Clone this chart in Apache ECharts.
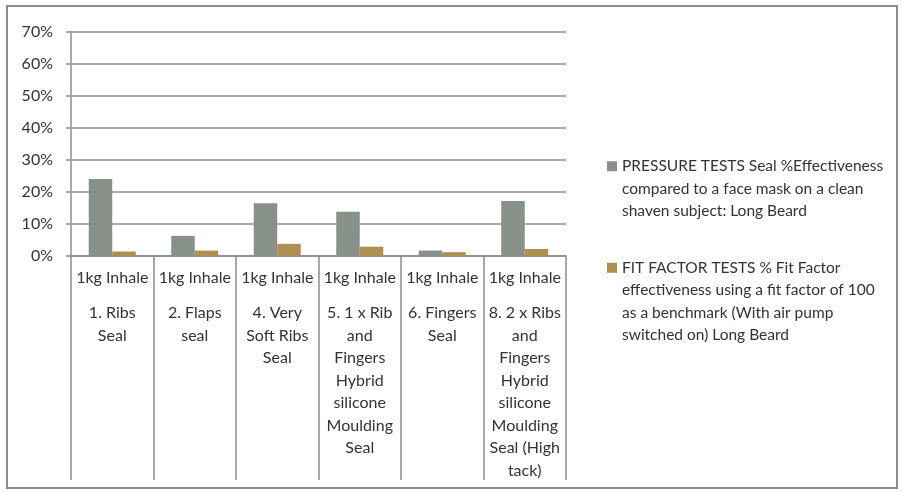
<!DOCTYPE html>
<html>
<head>
<meta charset="utf-8">
<script src="https://cdn.jsdelivr.net/npm/echarts@6/dist/echarts.min.js"></script>
<style>
  html, body { margin: 0; padding: 0; background: #fff; }
  #frame {
    position: absolute; left: 6px; top: 5px; width: 888px; height: 480px;
    border: 2px solid #8c8c8c;
  }
  #chart { position: absolute; left: 0; top: 0; width: 902px; height: 493px; }
</style>
</head>
<body>
<div id="frame"></div>
<div id="chart"></div>
<script>
  // Data (percent)
  const testLabels = ["1kg Inhale", "1kg Inhale", "1kg Inhale", "1kg Inhale", "1kg Inhale", "1kg Inhale"];
  const sealNames = [
    "1. Ribs\nSeal",
    "2. Flaps\nseal",
    "4. Very\nSoft Ribs\nSeal",
    "5. 1 x Rib\nand\nFingers\nHybrid\nsilicone\nMoulding\nSeal",
    "6. Fingers\nSeal",
    "8. 2 x Ribs\nand\nFingers\nHybrid\nsilicone\nMoulding\nSeal (High\ntack)"
  ];
  const pressureName = "PRESSURE TESTS Seal %Effectiveness\ncompared to a face mask on a clean\nshaven subject: Long Beard";
  const fitName = "FIT FACTOR TESTS % Fit Factor\neffectiveness using a fit factor of 100\nas a benchmark (With air pump\nswitched on) Long Beard";
  const pressureValues = [24.1, 6.3, 16.5, 13.8, 1.7, 17.2];
  const fitValues = [1.4, 1.7, 3.8, 2.9, 1.2, 2.2];
  const yTicks = { min: 0, max: 70, interval: 10 };

  const FONT = "Lato";
  const TEXT = "#333333";
  const LINE = "#8c8c8c";

  const chart = echarts.init(document.getElementById("chart"));

  // legend text: pad with blank lines so the swatch sits on the first line
  function legendText(name) {
    const n = name.split("\n").length;
    return "\n".repeat(n - 1) + name;
  }

  const legendBase = {
    orient: "vertical",
    left: 602,
    icon: "rect",
    itemWidth: 10,
    itemHeight: 10,
    selectedMode: false,
    formatter: legendText,
    textStyle: { color: TEXT, fontFamily: FONT, fontSize: 15.5, lineHeight: 22.5 },
  };

  chart.setOption({
    animation: false,
    textStyle: { fontFamily: FONT },
    legend: [
      Object.assign({}, legendBase, { data: [pressureName], top: 105 }),
      Object.assign({}, legendBase, { data: [fitName], top: 184 }),
    ],
    grid: { left: 71, right: 336, top: 32, bottom: 237, containLabel: false },
    xAxis: [
      {
        type: "category",
        data: testLabels,
        axisLine: { lineStyle: { color: LINE, width: 1.5 } },
        axisTick: { show: true, length: 224, lineStyle: { color: LINE, width: 1.5 } },
        axisLabel: {
          interval: 0, margin: 11, color: TEXT, fontFamily: FONT,
          fontSize: 16, lineHeight: 22.5,
        },
      },
      {
        type: "category",
        position: "bottom",
        offset: 38,
        data: sealNames,
        axisLine: { show: false },
        axisTick: { show: false },
        axisLabel: {
          interval: 0, margin: 8, color: TEXT, fontFamily: FONT,
          fontSize: 16, lineHeight: 22.5, align: "center",
        },
      },
    ],
    yAxis: {
      type: "value",
      min: yTicks.min,
      max: yTicks.max,
      interval: yTicks.interval,
      axisLine: { show: true, lineStyle: { color: LINE, width: 1.5 } },
      axisTick: { show: true, length: 5, lineStyle: { color: LINE, width: 1.5 } },
      axisLabel: {
        formatter: "{value}%", margin: 18, color: TEXT, fontFamily: FONT, fontSize: 16,
      },
      splitLine: { lineStyle: { color: LINE, width: 1.5 } },
    },
    series: [
      {
        name: pressureName,
        type: "bar",
        data: pressureValues,
        barGap: "0%",
        barCategoryGap: "43%",
        itemStyle: { color: "#87918a" },
      },
      {
        name: fitName,
        type: "bar",
        data: fitValues,
        itemStyle: { color: "#ad8f51" },
      },
    ],
  });
</script>
</body>
</html>
